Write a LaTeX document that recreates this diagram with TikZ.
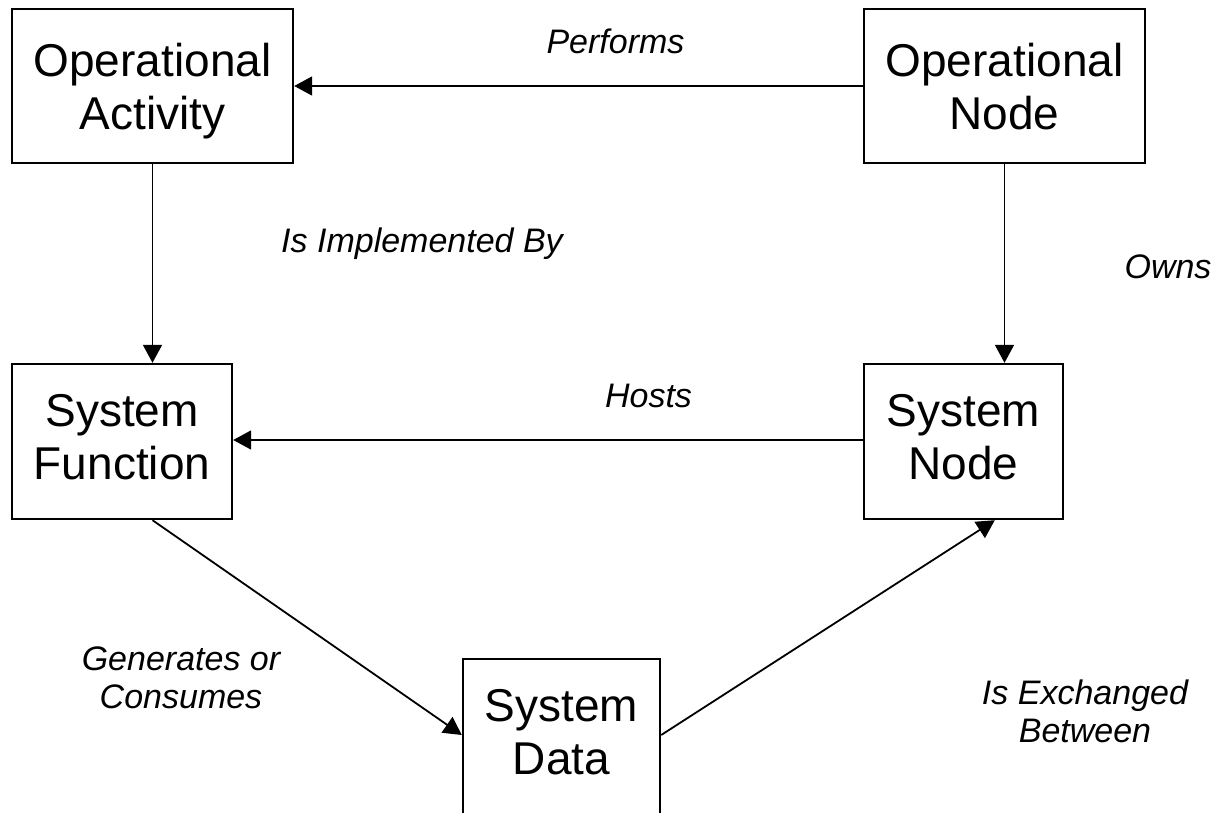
\documentclass[tikz,border=0pt]{standalone}
\usepackage{fontspec}
\setmainfont{Liberation Sans}
\usetikzlibrary{arrows.meta}
\newcommand{\dsc}{\vphantom{y}}
\newcommand{\lowr}{\rule{0pt}{44pt}}
\tikzset{
  box/.style={draw=black, line width=2.4pt, rectangle, inner sep=0pt, align=center,
    font=\fontsize{46}{53}\selectfont},
  rel/.style={inner sep=0pt, align=center, font=\fontsize{34}{38}\selectfont\itshape},
  conn/.style={draw=black, line width=1.8pt},
  arr/.style={conn, -{Triangle[length=18pt,width=19pt]}}
}
\begin{document}
\begin{tikzpicture}[x=1pt,y=-1pt]
\clip (0,0) rectangle (1216,812);
\fill[white] (0,0) rectangle (1216,812);
% boxes
\node[box, minimum width=281pt, minimum height=154pt] (oa) at (152.5,86) {\lowr Operational\\Activity\dsc};
\node[box, minimum width=281pt, minimum height=154pt] (on) at (1004.5,86) {\lowr Operational\\Node\dsc};
\node[box, minimum width=220pt, minimum height=155pt] (sf) at (122,441.5) {System\\Function\dsc};
\node[box, minimum width=199pt, minimum height=155pt] (sn) at (963.5,441.5) {System\\Node\dsc};
\node[box, minimum width=197pt, minimum height=155pt] (sd) at (561.5,736.5) {System\\Data\dsc};
% labels
\node[rel, anchor=base] (lperf) at (615.5,53) {Performs};
\node[rel, anchor=base] (limpl) at (422,252) {Is Implemented By};
\node[rel, anchor=base] (lowns) at (1168,278) {Owns};
\node[rel, anchor=base] (lhost) at (648.5,407) {Hosts};
\node[rel, anchor=center] (lgen) at (181,678) {Generates or\\Consumes};
\node[rel, anchor=center] (lexch) at (1085,711) {Is Exchanged\\Between};
% connectors
\draw[arr] (on.west) -- (oa.east);
\draw[arr] (oa.south) -- (oa.south |- sf.north);
\draw[arr] (on.south) -- (on.south |- sn.north);
\draw[arr] (sn.west |- 0,440) -- (sf.east |- 0,440);
\draw[arr] (oa.south |- sf.south) -- (sd.west |- 0,735);
\draw[arr] (sd.east |- 0,735) -- ([xshift=132pt]sn.south west);
\end{tikzpicture}
\end{document}
